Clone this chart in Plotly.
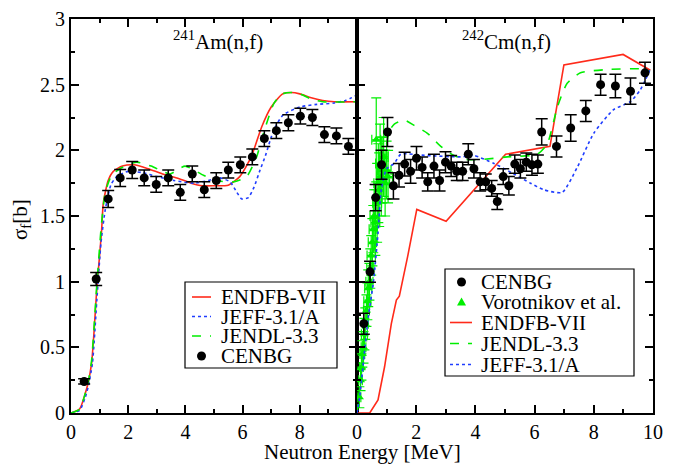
import plotly.graph_objects as go

# ---------------- Left panel: 241Am(n,f) ----------------
am_cenbg_E = [0.46, 0.88, 1.30, 1.72, 2.14, 2.56, 2.98, 3.40, 3.82, 4.24, 4.66, 5.08, 5.50,
              5.92, 6.34, 6.76, 7.18, 7.60, 8.02, 8.44, 8.86, 9.28, 9.70]
am_cenbg_s = [0.24, 1.02, 1.63, 1.79, 1.85, 1.79, 1.74, 1.79, 1.68, 1.82, 1.70, 1.77, 1.85,
              1.89, 1.95, 2.09, 2.15, 2.21, 2.26, 2.25, 2.12, 2.11, 2.03]
am_cenbg_err = [0.02, 0.05, 0.065, 0.065, 0.065, 0.06, 0.06, 0.06, 0.06, 0.06, 0.06, 0.06, 0.06,
                0.06, 0.06, 0.06, 0.06, 0.06, 0.06, 0.06, 0.06, 0.06, 0.06]

am_endf_E = [0, 0.3, 0.5, 0.6, 0.72, 0.8, 0.9, 1.0, 1.07, 1.13, 1.3, 1.48, 1.8, 2.2, 2.7, 3.2,
             3.7, 4.2, 4.6, 5.0, 5.5, 5.9, 6.3, 6.67, 7.0, 7.4, 7.7, 8.0, 8.4, 8.8, 9.2, 10]
am_endf_s = [0, 0.03, 0.15, 0.23, 0.38, 0.6, 0.94, 1.2, 1.39, 1.6, 1.77, 1.84, 1.88, 1.89, 1.86,
             1.82, 1.79, 1.75, 1.73, 1.73, 1.735, 1.80, 1.95, 2.18, 2.33, 2.43, 2.44, 2.43,
             2.40, 2.38, 2.37, 2.37]

am_jendl_E = [0, 0.3, 0.5, 0.6, 0.72, 0.9, 1.07, 1.2, 1.4, 1.7, 2.3, 2.8, 3.2, 3.46, 3.99, 4.63,
              5.09, 5.67, 6.14, 6.49, 6.73, 7.1, 7.4, 7.7, 8.0, 8.4, 8.8, 10]
am_jendl_s = [0, 0.03, 0.15, 0.23, 0.40, 0.97, 1.45, 1.68, 1.80, 1.86, 1.91, 1.88, 1.84, 1.82,
              1.88, 1.81, 1.77, 1.76, 1.80, 1.95, 2.13, 2.36, 2.43, 2.44, 2.43, 2.39, 2.37, 2.37]

am_jeff_E = [0, 0.3, 0.5, 0.6, 0.75, 0.9, 1.05, 1.2, 1.4, 1.6, 2.0, 2.5, 3.0, 3.6, 4.3, 4.8,
             5.2, 5.56, 5.8, 5.97, 6.2, 6.4, 6.61, 6.8, 7.0, 7.2, 7.42, 8.0, 8.6, 9.2, 9.6, 10]
am_jeff_s = [0, 0.02, 0.12, 0.2, 0.38, 0.85, 1.3, 1.55, 1.74, 1.80, 1.84, 1.83, 1.80, 1.77,
             1.75, 1.77, 1.79, 1.76, 1.68, 1.63, 1.64, 1.72, 1.85, 1.96, 2.10, 2.20, 2.27,
             2.33, 2.35, 2.36, 2.38, 2.42]

# ---------------- Right panel: 242Cm(n,f) ----------------
cm_cenbg_E = [0.23, 0.44, 0.63, 0.83, 1.03, 1.23, 1.42, 1.61, 1.81, 2.01, 2.20, 2.39, 2.60, 2.79,
              2.99, 3.18, 3.37, 3.57, 3.76, 3.95, 4.16, 4.35, 4.55, 4.74, 4.94, 5.13, 5.33,
              5.52, 5.72, 5.91, 6.11, 6.24, 6.74, 7.22, 7.73, 8.23, 8.73, 9.24, 9.73]
cm_cenbg_s = [0.68, 1.075, 1.64, 1.89, 2.14, 1.73, 1.81, 1.895, 1.84, 1.94, 1.87, 1.76, 1.88,
              1.77, 1.91, 1.88, 1.84, 1.84, 1.97, 1.86, 1.76, 1.76, 1.71, 1.61, 1.80, 1.73,
              1.895, 1.86, 1.91, 1.89, 1.895, 2.14, 2.03, 2.17, 2.30, 2.50, 2.49, 2.45, 2.59]
cm_cenbg_err = [0.08, 0.08, 0.10, 0.11, 0.11, 0.10, 0.09, 0.09, 0.09, 0.09, 0.08, 0.07, 0.09,
                0.08, 0.08, 0.08, 0.07, 0.07, 0.08, 0.07, 0.07, 0.06, 0.06, 0.06, 0.06, 0.07,
                0.07, 0.07, 0.07, 0.08, 0.07, 0.10, 0.08, 0.10, 0.08, 0.08, 0.09, 0.10, 0.08]

voro_E = [0.08, 0.12, 0.15, 0.18, 0.22, 0.25, 0.28, 0.32, 0.35, 0.38, 0.42, 0.45, 0.48, 0.52,
          0.55, 0.58, 0.62, 0.65, 0.68, 0.72, 0.75, 0.78, 0.82, 0.85, 0.90, 0.95, 1.00, 1.05]
voro_s = [0.12, 0.25, 0.35, 0.45, 0.50, 0.60, 0.68, 0.78, 0.85, 0.95, 1.00, 1.10, 1.20, 1.30,
          1.40, 1.50, 1.45, 2.08, 1.60, 1.75, 1.70, 1.90, 1.80, 1.85, 1.95, 1.75, 1.85, 1.80]
voro_serr = [0.08, 0.08, 0.10, 0.10, 0.12, 0.12, 0.12, 0.12, 0.14, 0.14, 0.14, 0.15, 0.15, 0.18,
             0.18, 0.20, 0.25, 0.32, 0.30, 0.30, 0.28, 0.30, 0.30, 0.25, 0.30, 0.25, 0.22, 0.20]
voro_Eerr = [0.05, 0.06, 0.06, 0.08, 0.08, 0.10, 0.10, 0.10, 0.12, 0.12, 0.12, 0.12, 0.14, 0.14,
             0.14, 0.14, 0.15, 0.15, 0.15, 0.15, 0.15, 0.15, 0.15, 0.15, 0.15, 0.15, 0.15, 0.15]

cm_endf_E = [0, 0.43, 0.71, 0.93, 1.16, 1.33, 1.43, 1.71, 2.02, 3.01, 5.02, 6.52, 6.99, 8.99, 9.91]
cm_endf_s = [0, 0.0, 0.10, 0.35, 0.68, 0.86, 0.89, 1.19, 1.55, 1.46, 1.97, 2.03, 2.65, 2.73, 2.61]

cm_jendl_E = [0, 0.1, 0.2, 0.3, 0.4, 0.5, 0.6, 0.7, 0.8, 0.9, 1.0, 1.1, 1.26, 1.59, 1.93, 2.38,
              2.83, 3.28, 3.7, 4.18, 5.08, 6.09, 6.43, 6.77, 7.1, 7.55, 8.45, 9.57, 9.9]
cm_jendl_s = [0, 0.2, 0.42, 0.65, 0.87, 1.05, 1.3, 1.5, 1.75, 1.9, 2.05, 2.15, 2.20, 2.23, 2.19,
              2.13, 2.03, 1.96, 1.93, 1.93, 1.95, 1.97, 2.05, 2.33, 2.51, 2.59, 2.615, 2.62, 2.60]

cm_jeff_E = [0, 0.09, 0.2, 0.37, 0.56, 0.71, 0.82, 1.0, 1.26, 1.48, 2.38, 3.5, 3.95, 4.63, 5.30,
             5.86, 6.31, 6.93, 7.44, 8.0, 8.67, 9.23, 9.57, 9.91]
cm_jeff_s = [0, 0.12, 0.35, 0.71, 1.01, 1.37, 1.70, 1.86, 1.90, 1.97, 1.96, 1.95, 1.96, 1.90,
             1.82, 1.75, 1.70, 1.68, 1.87, 2.13, 2.31, 2.37, 2.46, 2.62]

x_ticks = [0, 2, 4, 6, 8, 10]
y_ticks = [0, 0.5, 1, 1.5, 2, 2.5, 3]
y_ticklabels = ["0", "0.5", "1", "1.5", "2", "2.5", "3"]

legend_left = ["ENDFB-VII", "JEFF-3.1/A", "JENDL-3.3", "CENBG"]
legend_right = ["CENBG", "Vorotnikov et al.", "ENDFB-VII", "JENDL-3.3", "JEFF-3.1/A"]

FONT = "Liberation Serif, Times New Roman, serif"
FS_TICK = 20
FS_TEXT = 21
RED = "#ff2a1a"
BLUE = "#1f3dff"
GREEN = "#00ee00"

fig = go.Figure()


def line(x, y, color, dash, xa, ya, shape="spline"):
    fig.add_trace(go.Scatter(x=x, y=y, mode="lines", showlegend=False,
                             line=dict(color=color, width=1.6, dash=dash, shape=shape,
                                       smoothing=0.6 if shape == "spline" else None),
                             xaxis=xa, yaxis=ya))


line(am_endf_E, am_endf_s, RED, "solid", "x", "y")
line(am_jeff_E, am_jeff_s, BLUE, "dot", "x", "y")
line(am_jendl_E, am_jendl_s, GREEN, "dash", "x", "y")
fig.add_trace(go.Scatter(x=am_cenbg_E, y=am_cenbg_s, mode="markers", showlegend=False,
                         marker=dict(color="black", size=9),
                         error_y=dict(type="data", array=am_cenbg_err, color="black",
                                      thickness=1.5, width=6),
                         xaxis="x", yaxis="y"))

fig.add_trace(go.Scatter(x=voro_E, y=voro_s, mode="markers", showlegend=False,
                         marker=dict(color=GREEN, size=8, symbol="triangle-up"),
                         error_y=dict(type="data", array=voro_serr, color=GREEN,
                                      thickness=1.2, width=5),
                         error_x=dict(type="data", array=voro_Eerr, color=GREEN,
                                      thickness=1.2, width=5),
                         xaxis="x2", yaxis="y2"))
line(cm_endf_E, cm_endf_s, RED, "solid", "x2", "y2", shape="linear")
line(cm_jendl_E, cm_jendl_s, GREEN, "dash", "x2", "y2")
line(cm_jeff_E, cm_jeff_s, BLUE, "dot", "x2", "y2")
fig.add_trace(go.Scatter(x=cm_cenbg_E, y=cm_cenbg_s, mode="markers", showlegend=False,
                         marker=dict(color="black", size=9),
                         error_y=dict(type="data", array=cm_cenbg_err, color="black",
                                      thickness=1.5, width=6),
                         xaxis="x2", yaxis="y2"))

W, H = 676, 464
L, R, T, B = 71, 23, 19, 51
pw = W - L - R
ph = H - T - B
split = (357 - L) / pw


def px(xp):
    return (xp - L) / pw


def py(yp):
    return (H - B - yp) / ph


minor_style = dict(ticks="inside", ticklen=4, tickwidth=1.5, tickcolor="black")
axis_common = dict(showline=True, linecolor="black", linewidth=2, mirror="ticks",
                   ticks="inside", ticklen=8, tickwidth=1.5, tickcolor="black",
                   showgrid=False, zeroline=False, automargin=False,
                   tickfont=dict(family=FONT, size=FS_TICK, color="black"))

fig.update_layout(
    width=W, height=H, margin=dict(l=L, r=R, t=T, b=B),
    plot_bgcolor="white", paper_bgcolor="white",
    font=dict(family=FONT, size=FS_TEXT, color="black"),
    showlegend=False,
    xaxis=dict(domain=[0, split], range=[0, 10], tickvals=x_ticks[:-1],
               ticktext=[str(v) for v in x_ticks[:-1]],
               minor=dict(dtick=1, tick0=0, **minor_style), **axis_common),
    yaxis=dict(range=[0, 3], tickvals=y_ticks, ticktext=y_ticklabels, anchor="x",
               minor=dict(dtick=0.25, tick0=0, **minor_style), **axis_common),
    xaxis2=dict(domain=[split, 1], range=[0, 10], tickvals=x_ticks,
                ticktext=[str(v) for v in x_ticks], anchor="y2",
                minor=dict(dtick=1, tick0=0, **minor_style), **axis_common),
    yaxis2=dict(range=[0, 3], tickvals=y_ticks, anchor="x2", showticklabels=False,
                minor=dict(dtick=0.25, tick0=0, **minor_style), **axis_common),
)

shapes = []
annots = []


def legend_box(x0, y0, x1, y1):
    shapes.append(dict(type="rect", xref="paper", yref="paper", x0=px(x0), x1=px(x1),
                       y0=py(y1), y1=py(y0), line=dict(color="black", width=1.2),
                       fillcolor="white", layer="above"))


def legend_line(x0, x1, yrow, color, dash):
    shapes.append(dict(type="line", xref="paper", yref="paper", x0=px(x0), x1=px(x1),
                       y0=py(yrow), y1=py(yrow), line=dict(color=color, width=1.6, dash=dash),
                       layer="above"))


def legend_dot(xc, yrow):
    shapes.append(dict(type="circle", xref="paper", yref="paper", xsizemode="pixel",
                       ysizemode="pixel", xanchor=px(xc), yanchor=py(yrow),
                       x0=-4.5, x1=4.5, y0=-4.5, y1=4.5, fillcolor="black",
                       line=dict(color="black", width=0), layer="above"))


def legend_tri(xc, yrow):
    shapes.append(dict(type="path", xref="paper", yref="paper", xsizemode="pixel",
                       ysizemode="pixel", xanchor=px(xc), yanchor=py(yrow),
                       path="M -4.5 -3.5 L 4.5 -3.5 L 0 4.5 Z", fillcolor=GREEN,
                       line=dict(color=GREEN, width=0), layer="above"))


def legend_text(x, yrow, text):
    annots.append(dict(text=text, xref="paper", yref="paper", x=px(x), y=py(yrow),
                       xanchor="left", yanchor="middle", showarrow=False,
                       font=dict(family=FONT, size=FS_TEXT, color="black")))


# left legend
legend_box(185, 282, 337, 368)
rows_l = [297, 316.5, 336, 356]
legend_line(192, 211, rows_l[0], RED, "solid")
legend_line(192, 211, rows_l[1], BLUE, "dot")
legend_line(192, 211, rows_l[2], GREEN, "dash")
legend_dot(201.5, rows_l[3])
for r, t in zip(rows_l, legend_left):
    legend_text(219, r, t)

# right legend
legend_box(445, 269, 634, 376)
rows_r = [282, 302, 322.5, 343.5, 364.5]
legend_dot(461.5, rows_r[0])
legend_tri(461.5, rows_r[1])
legend_line(450, 472, rows_r[2], RED, "solid")
legend_line(450, 472, rows_r[3], GREEN, "dash")
legend_line(450, 472, rows_r[4], BLUE, "dot")
for r, t in zip(rows_r, legend_right):
    legend_text(479, r, t)

annots.append(dict(text="<sup>241</sup>Am(n,f)", xref="paper", yref="paper",
                   x=px(218), y=py(40), xanchor="center", yanchor="middle", showarrow=False,
                   font=dict(family=FONT, size=FS_TEXT)))
annots.append(dict(text="<sup>242</sup>Cm(n,f)", xref="paper", yref="paper",
                   x=px(506), y=py(40), xanchor="center", yanchor="middle", showarrow=False,
                   font=dict(family=FONT, size=FS_TEXT)))
annots.append(dict(text="Neutron Energy [MeV]", xref="paper", yref="paper",
                   x=px(362), y=py(452), xanchor="center", yanchor="middle", showarrow=False,
                   font=dict(family=FONT, size=FS_TEXT)))
annots.append(dict(text="σ<sub>f</sub>[b]", xref="paper", yref="paper",
                   x=px(21), y=py(220), showarrow=False, textangle=-90,
                   xanchor="center", yanchor="middle",
                   font=dict(family=FONT, size=FS_TEXT)))

fig.update_layout(shapes=shapes, annotations=annots)
fig.write_html("out.html")
